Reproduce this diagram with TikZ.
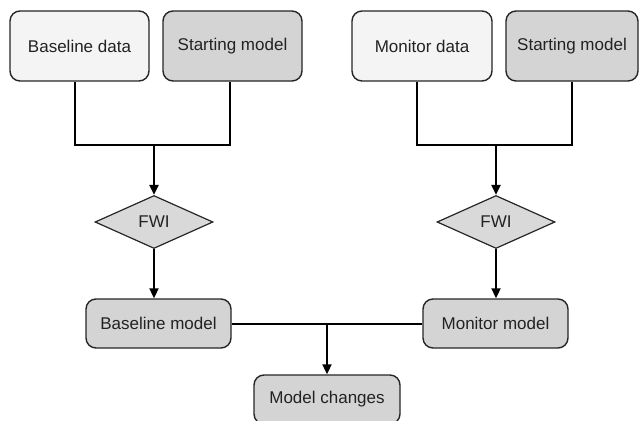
\documentclass[tikz,border=0pt]{standalone}
\usepackage{fontspec}
\setmainfont{Liberation Sans}
\usetikzlibrary{shapes.geometric,arrows.meta}
\definecolor{lightfill}{HTML}{F4F4F4}
\definecolor{darkfill}{HTML}{D4D4D4}
\definecolor{diafill}{HTML}{D9D9D9}
\definecolor{txt}{HTML}{222222}
\begin{document}
\begin{tikzpicture}[x=1pt,y=-1pt,
  box/.style={draw=black!85,line width=1.4pt,rounded corners=10pt,inner sep=0pt,
    font=\fontsize{17}{20}\selectfont,text=txt},
  databox/.style={box,fill=lightfill},
  modelbox/.style={box,fill=darkfill},
  fwibox/.style={diamond,draw=black!85,line width=1.2pt,fill=diafill,inner sep=0pt,
    minimum width=118pt,minimum height=53pt,font=\fontsize{17}{20}\selectfont,text=txt},
  conn/.style={line width=2pt,black},
  arr/.style={conn,-{Triangle[length=10pt,width=9pt]}}]
\useasboundingbox (0,0) rectangle (639,420);
\node[databox,minimum width=139pt,minimum height=70pt] (bd) at (79.5,46) {Baseline data};
\node[modelbox,minimum width=139pt,minimum height=70pt] (sml) at (232.5,46) {Starting model};
\node[databox,minimum width=140pt,minimum height=70pt] (md) at (422,46) {Monitor data};
\node[modelbox,minimum width=132pt,minimum height=70pt] (smr) at (572,46) {Starting model};
\node[fwibox] (fwil) at (154,222) {FWI};
\node[fwibox] (fwir) at (496,222) {FWI};
\node[modelbox,minimum width=145pt,minimum height=49pt] (bm) at (158.5,323.5) {Baseline model};
\node[modelbox,minimum width=145pt,minimum height=49pt] (mm) at (495.5,323.5) {Monitor model};
\node[modelbox,minimum width=146pt,minimum height=49pt] (mc) at (327,399.5) {Model changes};
\coordinate (jl) at (154,145);
\coordinate (jr) at (496,145);
\coordinate (jb) at (327,323.5);
\draw[conn] ([xshift=-4.5pt]bd.south) |- (jl) -| ([xshift=-2.5pt]sml.south);
\draw[conn] ([xshift=-5pt]md.south) |- (jr) -| (smr.south);
\draw[arr] (jl) -- (fwil.north);
\draw[arr] (jr) -- (fwir.north);
\draw[arr] (fwil.south) -- (bm.north -| fwil.south);
\draw[arr] (fwir.south) -- (mm.north -| fwir.south);
\draw[conn] (bm.east) -- (mm.west);
\draw[arr] (jb) -- (mc.north);
\end{tikzpicture}
\end{document}
